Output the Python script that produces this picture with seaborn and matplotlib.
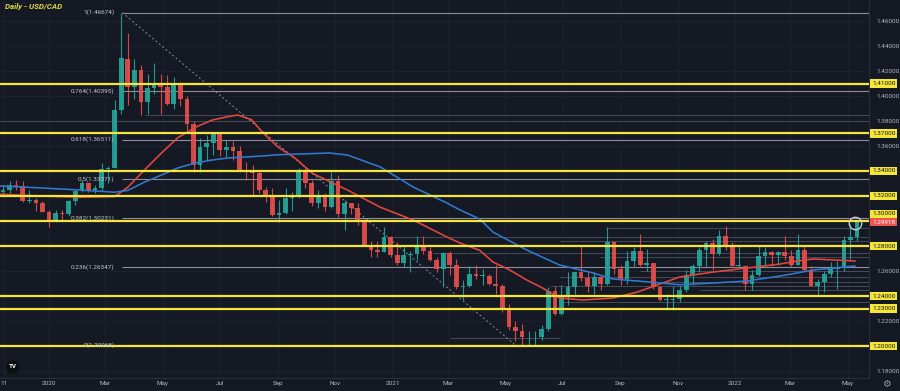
import matplotlib
matplotlib.use('Agg')
import matplotlib.pyplot as plt
import matplotlib.dates as mdates
import seaborn as sns
import numpy as np
import pandas as pd

# weekly candles (week starting Monday)
week_start = pd.date_range('2019-11-11', '2022-05-09', freq='W-MON')
first_open = 1.3235
close = [
    1.3245, 1.3285, 1.3283, 1.3160, 1.3164, 1.3145, 1.3075, 1.2990,
    1.3060, 1.3057, 1.3160, 1.3236, 1.3305, 1.3245, 1.3265, 1.3415, 1.3425, 1.3885,
    1.4300, 1.4075, 1.4210, 1.3950, 1.4065, 1.4100, 1.4075, 1.3940, 1.4105, 1.3975,
    1.3775, 1.3450, 1.3590, 1.3625, 1.3700, 1.3570, 1.3590, 1.3560, 1.3410, 1.3405,
    1.3385, 1.3250, 1.3190, 1.3050, 1.3065, 1.3180, 1.3190, 1.3390, 1.3300, 1.3140,
    1.3190, 1.3110, 1.3320, 1.3060, 1.3140, 1.3100, 1.2990, 1.2810, 1.2765, 1.2750,
    1.2870, 1.2725,
    1.2665, 1.2730, 1.2735, 1.2790, 1.2760, 1.2690, 1.2620, 1.2740, 1.2650, 1.2470,
    1.2480, 1.2580, 1.2560, 1.2560, 1.2500, 1.2480, 1.2290, 1.2150, 1.2120, 1.2070,
    1.2070, 1.2070, 1.2140, 1.2440, 1.2260, 1.2390, 1.2470, 1.2590, 1.2545, 1.2480,
    1.2550, 1.2500, 1.2830, 1.2620, 1.2540, 1.2680, 1.2760, 1.2650, 1.2660, 1.2470,
    1.2370, 1.2370, 1.2380, 1.2450, 1.2570, 1.2640, 1.2770, 1.2820, 1.2740, 1.2880,
    1.2790, 1.2640,
    1.2640, 1.2500, 1.2570, 1.2720, 1.2750, 1.2730, 1.2750, 1.2720, 1.2650, 1.2770,
    1.2610, 1.2480, 1.2510, 1.2580, 1.2620, 1.2630, 1.2850, 1.2870, 1.2992,
]
high = [
    1.3290, 1.3320, 1.3325, 1.3320, 1.3250, 1.3180, 1.3160, 1.3090,
    1.3090, 1.3090, 1.3170, 1.3250, 1.3330, 1.3310, 1.3290, 1.3460, 1.3440, 1.3970,
    1.4667, 1.4500, 1.4300, 1.4250, 1.4180, 1.4265, 1.4180, 1.4170, 1.4150, 1.4110,
    1.4000, 1.3800, 1.3660, 1.3690, 1.3715, 1.3715, 1.3650, 1.3640, 1.3600, 1.3470,
    1.3450, 1.3400, 1.3270, 1.3260, 1.3170, 1.3260, 1.3230, 1.3420, 1.3420, 1.3330,
    1.3250, 1.3220, 1.3390, 1.3370, 1.3170, 1.3140, 1.3140, 1.3020, 1.2840, 1.2840,
    1.2950, 1.2880,
    1.2830, 1.2790, 1.2760, 1.2880, 1.2880, 1.2790, 1.2710, 1.2750, 1.2760, 1.2700,
    1.2530, 1.2640, 1.2650, 1.2620, 1.2580, 1.2650, 1.2500, 1.2340, 1.2200, 1.2180,
    1.2120, 1.2120, 1.2170, 1.2470, 1.2480, 1.2490, 1.2590, 1.2590, 1.2810, 1.2590,
    1.2590, 1.2570, 1.2950, 1.2830, 1.2650, 1.2760, 1.2790, 1.2900, 1.2780, 1.2650,
    1.2480, 1.2420, 1.2480, 1.2480, 1.2610, 1.2660, 1.2790, 1.2840, 1.2860, 1.2930,
    1.2960, 1.2830,
    1.2810, 1.2650, 1.2610, 1.2800, 1.2790, 1.2760, 1.2760, 1.2880, 1.2770, 1.2900,
    1.2800, 1.2640, 1.2540, 1.2600, 1.2670, 1.2680, 1.2880, 1.2980, 1.2995,
]
low = [
    1.3200, 1.3220, 1.3245, 1.3150, 1.3140, 1.3080, 1.3070, 1.2950,
    1.2990, 1.3010, 1.3040, 1.3130, 1.3230, 1.3230, 1.3220, 1.3240, 1.3300, 1.3420,
    1.3860, 1.3925, 1.3980, 1.3850, 1.3860, 1.4020, 1.3855, 1.3925, 1.3900, 1.3920,
    1.3730, 1.3390, 1.3390, 1.3480, 1.3530, 1.3520, 1.3500, 1.3490, 1.3390, 1.3330,
    1.3210, 1.3225, 1.3150, 1.3040, 1.2995, 1.3060, 1.3080, 1.3180, 1.3260, 1.3120,
    1.3100, 1.3080, 1.3100, 1.3030, 1.2930, 1.3060, 1.2970, 1.2800, 1.2710, 1.2710,
    1.2760, 1.2710,
    1.2650, 1.2630, 1.2590, 1.2690, 1.2740, 1.2680, 1.2590, 1.2470, 1.2570, 1.2460,
    1.2365, 1.2470, 1.2540, 1.2490, 1.2490, 1.2420, 1.2270, 1.2130, 1.2040, 1.2007,
    1.2010, 1.2010, 1.2050, 1.2120, 1.2250, 1.2250, 1.2330, 1.2420, 1.2520, 1.2430,
    1.2420, 1.2450, 1.2490, 1.2580, 1.2490, 1.2500, 1.2640, 1.2640, 1.2600, 1.2460,
    1.2360, 1.2290, 1.2290, 1.2350, 1.2430, 1.2490, 1.2590, 1.2640, 1.2610, 1.2730,
    1.2770, 1.2640,
    1.2630, 1.2450, 1.2450, 1.2560, 1.2640, 1.2640, 1.2650, 1.2690, 1.2630, 1.2650,
    1.2600, 1.2480, 1.2400, 1.2430, 1.2550, 1.2460, 1.2600, 1.2700, 1.2840,
]

# moving averages
ma_red_dates = ['2019-11-10', '2019-12-22', '2020-02-03', '2020-03-11', '2020-03-25',
                '2020-04-12', '2020-04-30', '2020-05-17', '2020-06-05', '2020-06-23',
                '2020-07-10', '2020-07-20', '2020-08-04', '2020-08-15', '2020-09-01',
                '2020-09-19', '2020-10-08', '2020-11-14', '2020-12-19', '2021-01-23',
                '2021-02-28', '2021-03-14', '2021-04-04', '2021-04-18', '2021-05-06',
                '2021-05-24', '2021-06-10', '2021-06-28', '2021-07-23', '2021-08-24',
                '2021-09-19', '2021-10-10', '2021-11-03', '2021-12-09', '2022-01-14',
                '2022-02-18', '2022-03-08', '2022-03-25', '2022-04-12', '2022-05-09']
ma_red = [1.3215, 1.3200, 1.3190, 1.3195, 1.3270, 1.3410, 1.3545, 1.3665, 1.3750, 1.3808,
          1.3835, 1.3848, 1.3810, 1.3712, 1.3592, 1.3504, 1.3380, 1.3248, 1.3110, 1.3008,
          1.2872, 1.2824, 1.2765, 1.2672, 1.2608, 1.2528, 1.2464, 1.2384, 1.2368, 1.2384,
          1.2432, 1.2488, 1.2552, 1.2592, 1.2624, 1.2656, 1.2680, 1.2696, 1.2690, 1.2680]
ma_blue_dates = ['2019-11-10', '2019-12-22', '2020-02-03', '2020-03-11', '2020-03-25',
                 '2020-04-12', '2020-04-30', '2020-05-17', '2020-06-05', '2020-06-23',
                 '2020-07-10', '2020-08-15', '2020-09-01', '2020-10-26', '2020-11-14',
                 '2020-12-19', '2021-01-23', '2021-02-28', '2021-03-14', '2021-04-04',
                 '2021-04-18', '2021-05-24', '2021-06-28', '2021-08-03', '2021-08-24',
                 '2021-09-19', '2021-11-03', '2021-12-09', '2022-01-14', '2022-02-18',
                 '2022-03-08', '2022-03-25', '2022-04-12', '2022-05-09']
ma_blue = [1.3280, 1.3265, 1.3248, 1.3230, 1.3245, 1.3312, 1.3368, 1.3424, 1.3464, 1.3488,
           1.3504, 1.3520, 1.3530, 1.3544, 1.3528, 1.3432, 1.3272, 1.3144, 1.3088, 1.3016,
           1.2912, 1.2768, 1.2648, 1.2584, 1.2536, 1.2520, 1.2490, 1.2504, 1.2520, 1.2560,
           1.2584, 1.2608, 1.2620, 1.2640]

key_levels = [1.41, 1.37, 1.34, 1.32, 1.30, 1.28, 1.24, 1.23, 1.20]
fib_ratios = ['1', '0.764', '0.618', '0.5', '0.382', '0.236', '0']
fib_prices = [1.46674, 1.40395, 1.36511, 1.33371, 1.30231, 1.26347, 1.20068]
fib_start, fib_end = '2020-03-19', '2021-05-12'

minor_levels = [1.3800, 1.3848, 1.2944, 1.2872, 1.2840, 1.2744, 1.2712, 1.2600,
                1.2552, 1.2512, 1.2480, 1.2448, 1.2352, 1.2064]
minor_starts = ['2019-11-01', '2020-04-12', '2021-08-19', '2020-12-26', '2021-06-28',
                '2021-02-13', '2021-08-10', '2021-09-22', '2021-06-28', '2021-10-13',
                '2021-06-18', '2021-11-25', '2021-07-02', '2021-03-03']
minor_ends = ['2022-06-01'] * 13 + ['2021-06-28']

last_price = 1.29918
date_ticks = ['2019-11-14', '2020-01-01', '2020-03-01', '2020-05-01', '2020-07-01',
              '2020-09-01', '2020-11-01', '2021-01-01', '2021-03-01', '2021-05-01',
              '2021-07-01', '2021-09-01', '2021-11-01', '2022-01-01', '2022-03-01',
              '2022-05-01']
date_labels = ['11', '2020', 'Mar', 'May', 'Jul', 'Sep', 'Nov', '2021', 'Mar', 'May',
               'Jul', 'Sep', 'Nov', '2022', 'Mar', 'May']

BG = '#151924'
GRID = '#1e2230'
TXT = '#b2b5be'
YEL = '#f5e63c'
UP = '#26a69a'
DOWN = '#e4504c'

sns.set_theme(style='dark', rc={'axes.facecolor': BG, 'figure.facecolor': BG,
                                'grid.color': GRID, 'axes.edgecolor': '#2a2e39'})
plt.rcParams['font.family'] = ['Roboto', 'DejaVu Sans']

fig = plt.figure(figsize=(9, 3.91), dpi=100)
ax = fig.add_axes([0, 13 / 391, 869 / 900, 378 / 391])

d2n = lambda s: mdates.date2num(pd.to_datetime(s))
x0 = pd.Timestamp('2020-01-01')
ax.set_xlim(mdates.date2num(x0 - pd.Timedelta(days=49 / 0.9385)),
            mdates.date2num(x0 + pd.Timedelta(days=820 / 0.9385)))
ax.set_ylim(1.1744, 1.4768)

# grid and axes
yt = np.round(np.arange(1.18, 1.4601, 0.02), 2)
ax.set_yticks(yt)
ax.set_yticklabels(['' if any(abs(v - k) < 1e-6 for k in key_levels) else f'{v:.5f}' for v in yt])
ax.yaxis.tick_right()
ax.set_xticks(d2n(date_ticks))
ax.set_xticklabels(date_labels)
ax.tick_params(axis='both', length=0, colors=TXT, labelsize=4.6)
ax.tick_params(axis='y', pad=5)
ax.tick_params(axis='x', pad=2)
ax.grid(True, color=GRID, lw=0.6)
for s in ['top', 'left']:
    ax.spines[s].set_visible(False)
for s in ['right', 'bottom']:
    ax.spines[s].set_color('#2a2e39')
    ax.spines[s].set_linewidth(0.8)

# minor horizontal levels
ax.hlines(minor_levels, d2n(minor_starts), d2n(minor_ends), color='#4f5360', lw=0.6, zorder=1)

# fibonacci retracement
fx0, fx1 = d2n(fib_start), d2n(fib_end)
ax.hlines(fib_prices, fx0, ax.get_xlim()[1], color='#928c98', lw=0.8, zorder=1.5)
for r, p in zip(fib_ratios, fib_prices):
    ax.text(fx0 - 8, p, f'{r}({p:.5f})', color='#c3c6cf', fontsize=4.6, ha='right',
            va='center', zorder=6)
ax.plot([fx0, fx1], [fib_prices[0], fib_prices[-1]], color='#8a8e99', lw=0.7,
        ls=(0, (2, 2.5)), zorder=1.5)

# candles
xc = mdates.date2num(week_start + pd.Timedelta(days=2))
c = np.array(close)
o = np.r_[first_open, c[:-1]]
hi = np.maximum(np.array(high), np.maximum(o, c))
lo = np.minimum(np.array(low), np.minimum(o, c))
cols = np.where(c >= o, UP, DOWN)
ax.vlines(xc, lo, hi, colors=cols, lw=0.8, zorder=2, alpha=0.9)
ax.bar(xc, np.maximum(np.abs(c - o), 0.0006), bottom=np.minimum(o, c), width=5.0,
       color=cols, zorder=2.2, linewidth=0, alpha=0.9)

# moving averages
sns.lineplot(x=d2n(ma_red_dates), y=ma_red, ax=ax, color='#e5473e', lw=1.15, zorder=3)
sns.lineplot(x=d2n(ma_blue_dates), y=ma_blue, ax=ax, color='#3179d0', lw=1.15, zorder=3)

# key horizontal levels with right-side labels
ytr = ax.get_yaxis_transform()
for lv in key_levels:
    ax.axhline(lv, color=YEL, lw=1.6, zorder=4)
    ly = lv + 0.0058 if abs(lv - 1.30) < 1e-6 else lv
    ax.text(1.0035, ly, f'{lv:.5f}', transform=ytr, fontsize=4.6, color='#131722',
            ha='left', va='center', clip_on=False, zorder=7,
            bbox=dict(boxstyle='square,pad=0.25', fc=YEL, ec='none'))
ax.text(1.0035, last_price, f'{last_price:.5f}', transform=ytr, fontsize=4.6, color='white',
        ha='left', va='center', clip_on=False, zorder=8,
        bbox=dict(boxstyle='square,pad=0.25', fc='#ef5350', ec='none'))
ax.plot(xc[-1] - 2, 1.2985, 'o', ms=9, mfc='none', mec='#d1d4dc', mew=0.9, zorder=8)

# title, logo, settings icon
fig.text(5 / 900, 1 - 7 / 391, 'Daily - USD/CAD', color='#e0d648', fontsize=5.8,
         style='italic', fontweight='bold', va='center', ha='left')
ax.text(13 / 869, (378 - 367) / 378, 'TV', transform=ax.transAxes, color='white',
        fontsize=4.5, fontweight='bold', ha='center', va='center', zorder=9,
        bbox=dict(boxstyle='circle,pad=0.45', fc='#0c0e14', ec='none'))
fig.text(886 / 900, 1 - 384 / 391, '\u2699', color='#9598a1', fontsize=7,
         ha='center', va='center', family='DejaVu Sans')

fig.savefig('out.png', dpi=100, facecolor=BG)
